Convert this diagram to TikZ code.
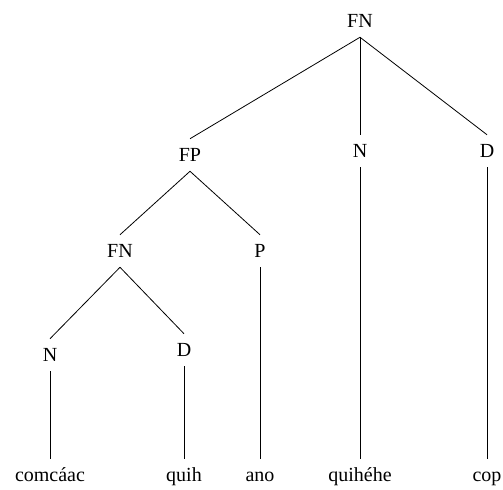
\documentclass[tikz,border=0pt]{standalone}
\usepackage{fontspec}
\setmainfont{Liberation Serif}
\begin{document}
\begin{tikzpicture}[x=0.75pt, y=-0.75pt,
  every node/.style = {font=\fontsize{15}{18}\selectfont, text height=10pt, text depth=0pt, inner xsep=2pt, inner ysep=7pt},
  branch/.style = {line width=0.6pt}]
\useasboundingbox (0,0) rectangle (503,489);

% Top level
\node (fn) at (360,21) {FN};
\node (fp) at (190,155) {FP};
\node (n) at (360,151) {N};
\node (d) at (487,151) {D};

% Under FP
\node (fnb) at (120,251) {FN};
\node (p) at (260,251) {P};

% Under the lower FN
\node (nb) at (50,355) {N};
\node (db) at (184,350) {D};

% Words
\node (w1) at (50,475) {comcáac};
\node (w2) at (184,475) {quih};
\node (w3) at (260,475) {ano};
\node (w4) at (360,475) {quihéhe};
\node (w5) at (487,475) {cop};

% Branches
\draw[branch] (fn.south) -- (fp.north);
\draw[branch] (fn.south) -- (n.north);
\draw[branch] (fn.south) -- (d.north);
\draw[branch] (fp.south) -- (fnb.north);
\draw[branch] (fp.south) -- (p.north);
\draw[branch] (fnb.south) -- (nb.north);
\draw[branch] (fnb.south) -- (db.north);
\draw[branch] (nb.south) -- (w1.north);
\draw[branch] (db.south) -- (w2.north);
\draw[branch] (p.south) -- (w3.north);
\draw[branch] (n.south) -- (w4.north);
\draw[branch] (d.south) -- (w5.north);
\end{tikzpicture}
\end{document}
